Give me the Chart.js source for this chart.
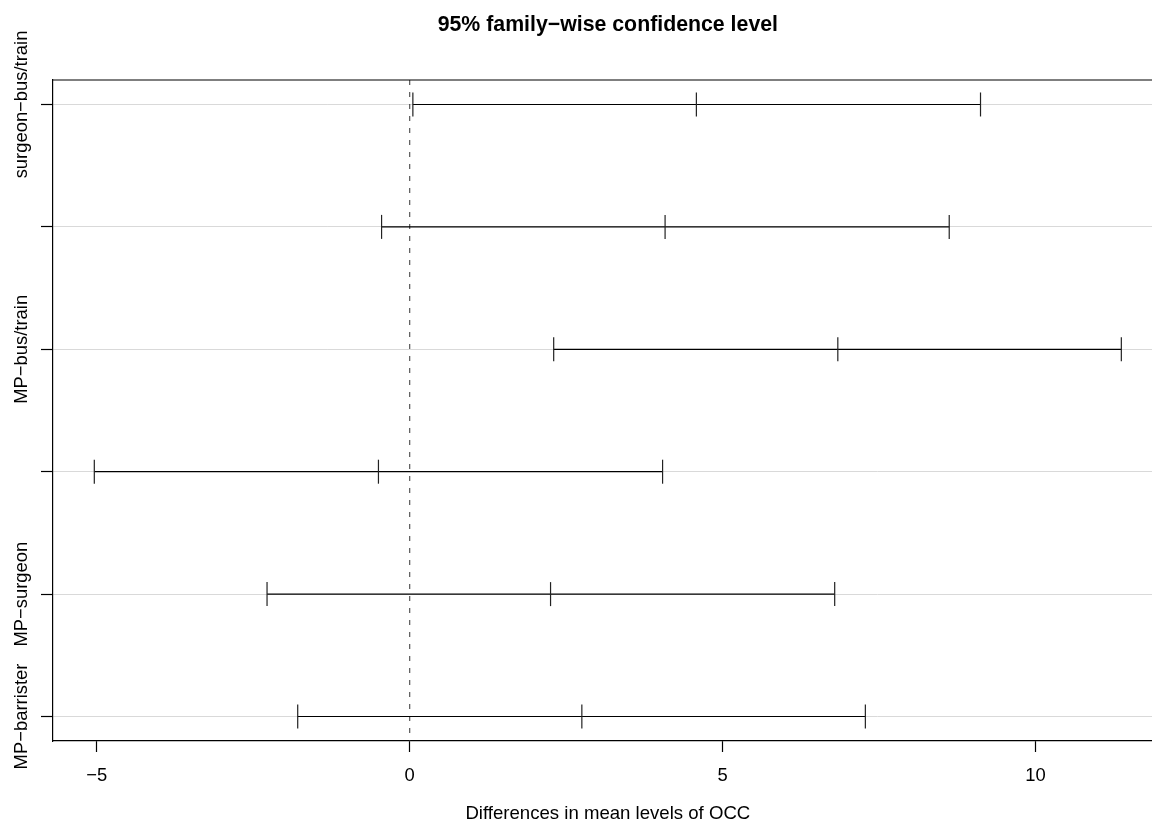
<!DOCTYPE html>
<html>
<head>
<meta charset="utf-8">
<title>95% family-wise confidence level</title>
<script src="https://cdn.jsdelivr.net/npm/chart.js@4.4.1/dist/chart.umd.min.js"></script>
<style>
  html, body { margin: 0; padding: 0; background: #fff; }
  #wrap { width: 1152px; height: 829px; }
</style>
</head>
<body>
<div id="wrap"><canvas id="tukeyChart" width="1152" height="829"></canvas></div>
<script>
// Tukey HSD comparisons, top row first (as R plots them)
const comparisons = ['surgeon\u2212bus/train', 'barrister\u2212bus/train', 'MP\u2212bus/train',
                     'barrister\u2212surgeon', 'MP\u2212surgeon', 'MP\u2212barrister'];
const diffValues  = [4.58, 4.08, 6.84, -0.50, 2.25, 2.75];
const lowerValues = [0.05, -0.45, 2.30, -5.04, -2.28, -1.79];
const upperValues = [9.12, 8.62, 11.37, 4.04, 6.79, 7.28];
const xTickValues = [-5, 0, 5, 10];

const TITLE = '95% family\u2212wise confidence level';
const X_TITLE = 'Differences in mean levels of OCC';
const FONT = "'Liberation Sans', Arial, Helvetica, sans-serif";

// R plot region (data range + 4%), only partly visible on the right
const R_XLIM = [-5.70, 12.03];

const fmt = v => (v < 0 ? '\u2212' + Math.abs(v) : String(v));

const datasets = comparisons.map((name, i) => {
    const y = comparisons.length - i;
    return {
        label: name,
        data: [
            { x: lowerValues[i], y: y },
            { x: diffValues[i], y: y },
            { x: upperValues[i], y: y }
        ],
        showLine: true,
        borderColor: '#000',
        borderWidth: 1.2,
        pointStyle: 'line',
        rotation: 90,
        pointRadius: 12,
        pointBorderColor: '#222',
        pointBorderWidth: 1.2,
        pointHoverRadius: 12
    };
});

// Dashed zero line, title, axis title, box top and y labels
const rDecor = {
    id: 'rDecor',
    beforeDatasetsDraw(chart) {
        const { ctx, chartArea, scales } = chart;
        const x0 = scales.x.getPixelForValue(0);
        ctx.save();
        ctx.strokeStyle = '#333';
        ctx.lineWidth = 1;
        ctx.setLineDash([5, 7]);
        ctx.beginPath();
        ctx.moveTo(x0, chartArea.top);
        ctx.lineTo(x0, chartArea.bottom);
        ctx.stroke();
        ctx.restore();
    },
    afterDraw(chart) {
        const { ctx, chartArea, scales } = chart;
        const cx = scales.x.getPixelForValue((R_XLIM[0] + R_XLIM[1]) / 2);
        ctx.save();

        // top of box
        ctx.strokeStyle = '#000';
        ctx.lineWidth = 1.2;
        ctx.beginPath();
        ctx.moveTo(chartArea.left, chartArea.top);
        ctx.lineTo(chartArea.right, chartArea.top);
        ctx.stroke();

        ctx.fillStyle = '#000';
        ctx.textAlign = 'center';
        ctx.textBaseline = 'alphabetic';
        ctx.font = 'bold 21.3px ' + FONT;
        ctx.fillText(TITLE, cx, 31);

        ctx.font = '18.6px ' + FONT;
        ctx.fillText(X_TITLE, cx, 819);

        // y labels, rotated, skipping ones that would overlap (like R's axis)
        ctx.font = '18.4px ' + FONT;
        const gap = ctx.measureText('m').width;
        let lastEdge = -Infinity;
        comparisons.forEach((name, i) => {
            const y = scales.y.getPixelForValue(comparisons.length - i);
            const w = ctx.measureText(name).width;
            const top = y - w / 2;
            if (top < lastEdge + gap) return;
            lastEdge = y + w / 2;
            ctx.save();
            ctx.translate(27, y);
            ctx.rotate(-Math.PI / 2);
            ctx.fillText(name, 0, 0);
            ctx.restore();
        });
        ctx.restore();
    }
};

new Chart(document.getElementById('tukeyChart').getContext('2d'), {
    type: 'scatter',
    data: { datasets: datasets },
    options: {
        responsive: false,
        animation: false,
        devicePixelRatio: 1,
        events: [],
        layout: { autoPadding: false, padding: { top: 80, left: 0, right: 0, bottom: 0 } },
        plugins: {
            legend: { display: false },
            tooltip: { enabled: false },
            title: { display: false }
        },
        scales: {
            x: {
                type: 'linear',
                min: R_XLIM[0],
                max: 11.86,
                afterBuildTicks: s => { s.ticks = xTickValues.map(v => ({ value: v })); },
                afterFit: s => { s.height = 88; s.paddingLeft = 0; s.paddingRight = 0; },
                grid: { drawOnChartArea: false, drawTicks: true, tickLength: 11, tickColor: '#000', tickWidth: 1.2 },
                border: { display: true, color: '#000', width: 1.2 },
                ticks: {
                    font: { family: FONT, size: 18.4 },
                    color: '#000',
                    padding: 13,
                    maxRotation: 0,
                    autoSkip: false,
                    callback: v => fmt(v)
                }
            },
            y: {
                type: 'linear',
                min: 0.8,
                max: 6.2,
                afterBuildTicks: s => { s.ticks = comparisons.map((_, i) => ({ value: comparisons.length - i })); },
                afterFit: s => { s.width = 53; s.paddingTop = 0; s.paddingBottom = 0; },
                grid: { color: '#D9D9D9', lineWidth: 1, drawTicks: true, tickLength: 12, tickColor: '#000', tickWidth: 1.2 },
                border: { display: true, color: '#000', width: 1.2 },
                ticks: { display: false }
            }
        }
    },
    plugins: [rDecor]
});
</script>
</body>
</html>
